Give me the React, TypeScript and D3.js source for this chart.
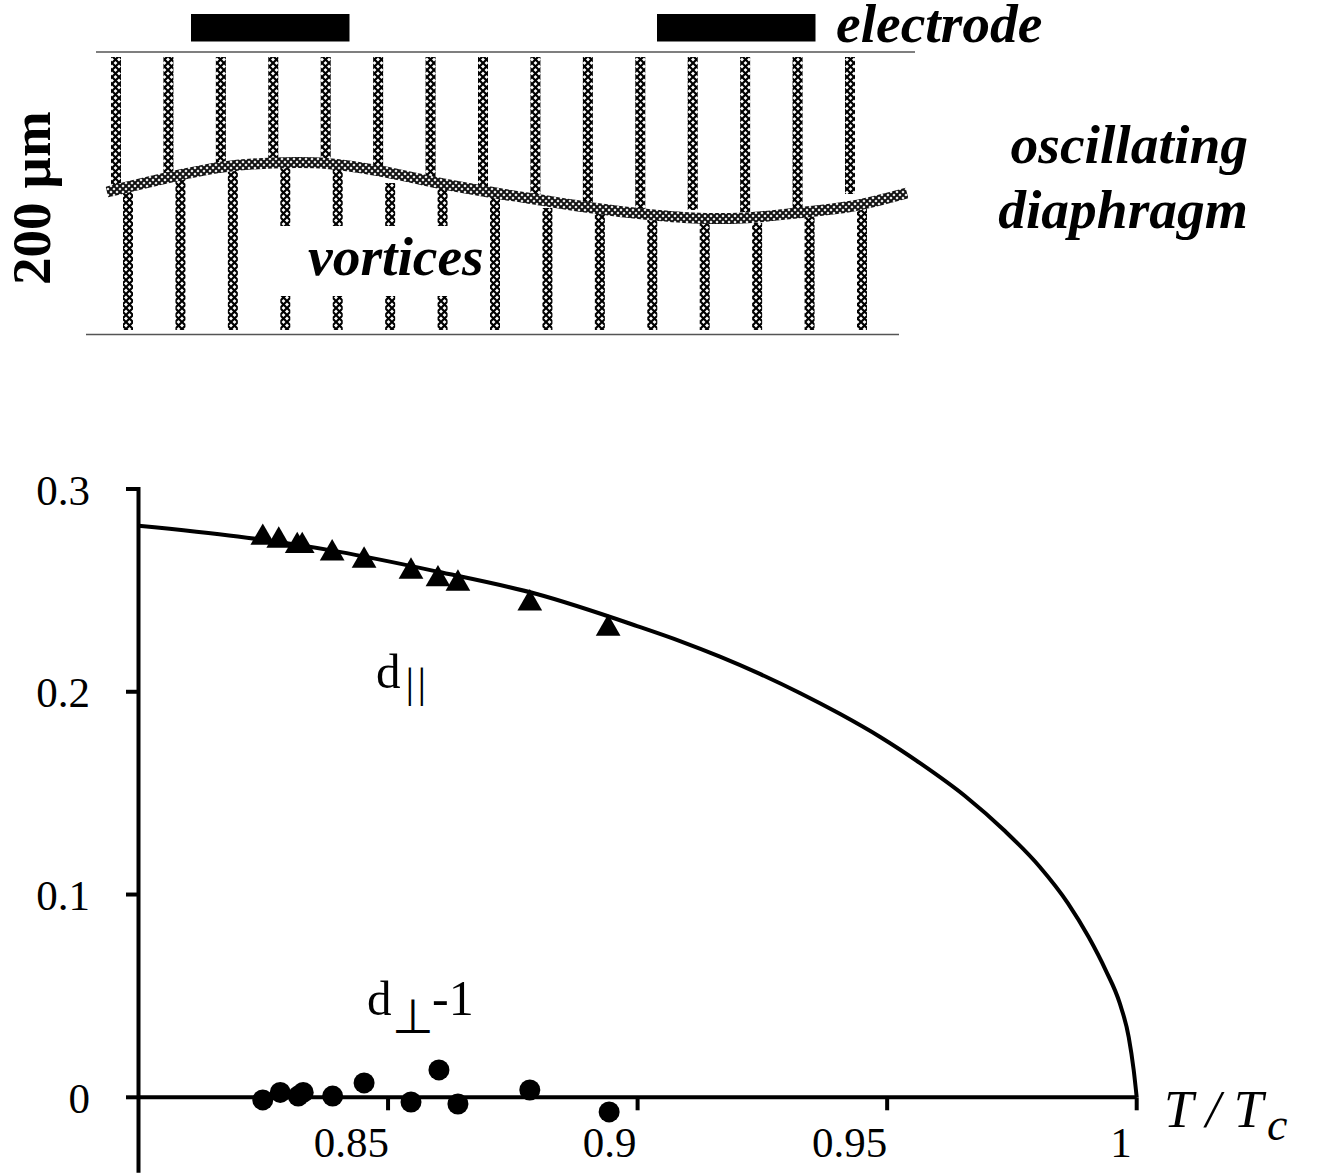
import React from "react";
import * as d3 from "d3";

// ---- chart data ----
const xTickValues = [0.85, 0.9, 0.95, 1];
const xTickLabels = ["0.85", "0.9", "0.95", "1"];
const xLabelNudge = [1, -1, 0, -5];
const yTickValues = [0, 0.1, 0.2, 0.3];
const yTickLabels = ["0", "0.1", "0.2", "0.3"];

const curveT = [0.8, 0.8199, 0.84, 0.8598, 0.8798, 0.8999, 0.9085, 0.9165, 0.9245, 0.9325, 0.9406, 0.9486, 0.9566, 0.9656, 0.9736, 0.9806, 0.9862, 0.9904, 0.9938, 0.9966, 0.9984, 0.9994, 1];
const curveD = [0.2819, 0.2766, 0.2691, 0.2593, 0.2482, 0.2324, 0.225, 0.2173, 0.2088, 0.1994, 0.189, 0.1777, 0.1648, 0.1486, 0.1313, 0.1136, 0.0958, 0.0789, 0.0626, 0.0464, 0.0297, 0.0134, 0];

const triT = [0.8249, 0.8281, 0.8318, 0.8328, 0.8388, 0.8452, 0.8546, 0.86, 0.864, 0.8784, 0.8941];
const triD = [0.276, 0.2746, 0.2719, 0.2719, 0.2683, 0.2647, 0.2593, 0.2555, 0.2534, 0.2436, 0.2312];

const dotT = [0.8249, 0.8284, 0.832, 0.833, 0.8389, 0.8452, 0.8546, 0.8602, 0.864, 0.8784, 0.8943];
const dotD = [-0.0013, 0.0024, 0.0006, 0.0024, 0.0006, 0.0071, -0.0023, 0.0135, -0.0033, 0.0036, -0.0072];

// ---- schematic data (in sketch units) ----
const membraneX = [107, 180, 223, 273, 327, 380, 433, 483, 540, 593, 643, 693, 743, 797, 853, 907];
const membraneY = [192, 175, 167, 163, 163.5, 171, 182, 191, 200, 208, 214, 218, 218, 213, 206, 193];
const upperEnds = [185, 175, 165, 160, 160, 168, 178, 186, 195, 205, 210, 210, 212, 208, 194];
const lowerStarts = [192, 178, 168, 165, 168, 183, 185, 195, 208, 210, 215, 223, 223, 215, 207];
const brokenLower = [3, 4, 5, 6];

const W = 1321;
const H = 1174;
const serif = "'Liberation Serif', 'Times New Roman', serif";

export default function App() {
  const x = d3.scaleLinear().domain([0.8, 1]).range([138.5, 1136.7]);
  const y = d3.scaleLinear().domain([0, 0.3]).range([1097.3, 489]);
  const upperX = d3.scaleLinear().domain([0, 14]).range([116, 850]);
  const lowerX = d3.scaleLinear().domain([0, 14]).range([128, 862]);

  const fit = d3
    .line<number>()
    .x((t) => x(t))
    .y((_, i) => y(curveD[i]))
    .curve(d3.curveMonotoneX)(curveT) as string;

  const membrane = d3
    .line<number>()
    .x((v) => v)
    .y((_, i) => membraneY[i])
    .curve(d3.curveCatmullRom)(membraneX) as string;

  const triangle = d3.symbol().type(d3.symbolTriangle).size(265)() as string;

  const barW = 10;

  return (
    <svg
      width={W}
      height={H}
      viewBox={`0 0 ${W} ${H}`}
      style={{ position: "absolute", left: 0, top: 0, background: "#fff" }}
      fontFamily={serif}
    >
      <defs>
        <pattern id="hatch" patternUnits="userSpaceOnUse" width={7} height={7}>
          <rect width={7} height={7} fill="#fff" />
          <path d="M0,0L7,7M7,0L0,7" stroke="#000" strokeWidth={2.2} />
        </pattern>
        <pattern id="hatchFine" patternUnits="userSpaceOnUse" width={6} height={6}>
          <rect width={6} height={6} fill="#fff" />
          <path d="M0,0L6,6M6,0L0,6" stroke="#111" strokeWidth={2} />
        </pattern>
      </defs>

      {/* electrodes and walls */}
      <rect x={191} y={14} width={158.5} height={27.5} fill="#000" />
      <rect x={657} y={14} width={158.5} height={27.5} fill="#000" />
      <line x1={96} x2={915} y1={52} y2={52} stroke="#555" strokeWidth={1.6} />
      <line x1={86} x2={899} y1={334.5} y2={334.5} stroke="#555" strokeWidth={1.6} />

      {/* vortices */}
      {upperEnds.map((end, i) => (
        <rect key={`u${i}`} x={upperX(i) - barW / 2} y={57} width={barW} height={end - 57} fill="url(#hatch)" />
      ))}
      {lowerStarts.map((start, i) =>
        brokenLower.includes(i) ? (
          <g key={`l${i}`}>
            <rect x={lowerX(i) - barW / 2} y={start} width={barW} height={226 - start} fill="url(#hatch)" />
            <rect x={lowerX(i) - barW / 2} y={296} width={barW} height={34} fill="url(#hatch)" />
          </g>
        ) : (
          <rect key={`l${i}`} x={lowerX(i) - barW / 2} y={start} width={barW} height={330 - start} fill="url(#hatch)" />
        )
      )}
      <path d={membrane} fill="none" stroke="url(#hatchFine)" strokeWidth={11} />

      {/* schematic labels */}
      <g fontWeight="bold" fontStyle="italic" fontSize={55.5} fill="#000">
        <text x={836} y={42}>electrode</text>
        <text x={1248} y={163} textAnchor="end" fontSize={55.5}>oscillating</text>
        <text x={1248} y={228} textAnchor="end" fontSize={55.5}>diaphragm</text>
        <text x={308} y={275}>vortices</text>
      </g>
      <text transform="translate(50,285) rotate(-90)" fontWeight="bold" fontSize={55} fill="#000">
        200 µm
      </text>

      {/* axes */}
      <g stroke="#000" strokeWidth={4} fill="none">
        <line x1={x(0.8)} x2={x(0.8)} y1={y(0.3) - 2} y2={1172.7} />
        <line x1={x(0.8)} x2={x(1)} y1={y(0)} y2={y(0)} />
        {yTickValues.map((v) => (
          <line key={v} x1={126} x2={x(0.8)} y1={y(v)} y2={y(v)} />
        ))}
        {xTickValues.map((v) => (
          <line key={v} x1={x(v)} x2={x(v)} y1={y(0)} y2={y(0) + 13} />
        ))}
      </g>
      <g fontSize={43} fill="#000">
        {yTickValues.map((v, i) => (
          <text key={v} x={90} y={y(v) + 15.5} textAnchor="end">
            {yTickLabels[i]}
          </text>
        ))}
        {xTickValues.map((v, i) => (
          <text key={v} x={x(v) + xLabelNudge[i]} y={1157} textAnchor="end">
            {xTickLabels[i]}
          </text>
        ))}
      </g>

      {/* fit and data */}
      <path d={fit} fill="none" stroke="#000" strokeWidth={4} />
      {triT.map((t, i) => (
        <path key={`t${i}`} d={triangle} transform={`translate(${x(t)},${y(triD[i])})`} fill="#000" />
      ))}
      {dotT.map((t, i) => (
        <circle key={`c${i}`} cx={x(t)} cy={y(dotD[i])} r={10.5} fill="#000" />
      ))}

      {/* series labels */}
      <text x={376} y={688} fontSize={49} fill="#000">d</text>
      <text x={405.5} y={697} fontSize={43} letterSpacing={3.5} fill="#000">||</text>
      <text x={367} y={1015} fontSize={49} fill="#000">d</text>
      <text x={392} y={1033} fontSize={48} fontFamily="'DejaVu Sans', sans-serif" fill="#000">⊥</text>
      <text x={432} y={1015} fontSize={50} fill="#000">-1</text>

      {/* x axis title */}
      <text x={1164} y={1127} fontSize={53} fontStyle="italic" fill="#000">T / T</text>
      <text x={1267} y={1140} fontSize={46} fontStyle="italic" fill="#000">c</text>
    </svg>
  );
}
